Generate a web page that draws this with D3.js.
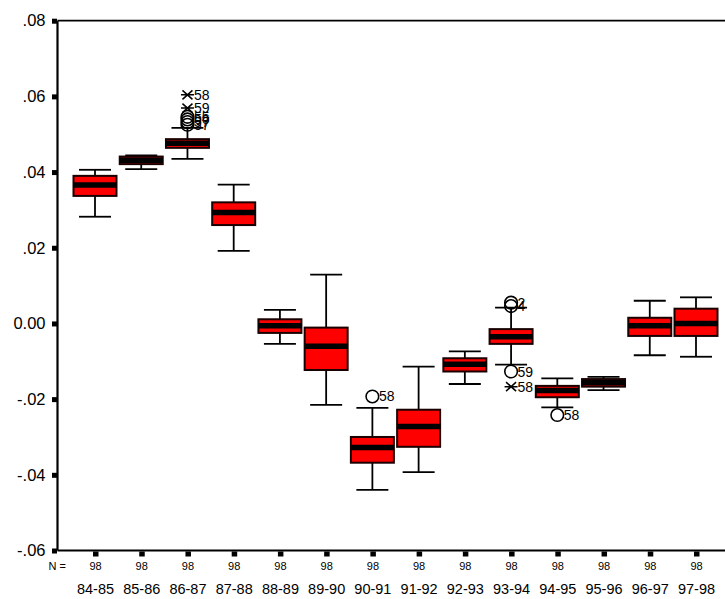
<!DOCTYPE html>
<html>
<head>
<meta charset="utf-8">
<script src="https://cdn.jsdelivr.net/npm/d3@7"></script>
<style>
  html, body { margin: 0; padding: 0; background: #fff; }
  svg { display: block; font-family: "Liberation Sans", Arial, sans-serif; }
</style>
</head>
<body>
<svg id="chart" width="725" height="599"></svg>
<script>
// Season-by-season distributions (box = quartiles, whiskers = non-outlier range)
const categories = ["84-85","85-86","86-87","87-88","88-89","89-90","90-91","91-92","92-93","93-94","94-95","95-96","96-97","97-98"];
const counts     = [98, 98, 98, 98, 98, 98, 98, 98, 98, 98, 98, 98, 98, 98];
const whiskerHigh = [0.0406, 0.0444, 0.0517, 0.0367, 0.0036, 0.0129, -0.0223, -0.0114, -0.0074, 0.0042, -0.0145, -0.0141, 0.0060, 0.0069];
const upperQuart  = [0.0390, 0.0441, 0.0487, 0.0320, 0.0011, -0.0011, -0.0300, -0.0228, -0.0092, -0.0015, -0.0165, -0.0147, 0.0015, 0.0039];
const medians     = [0.0366, 0.0431, 0.0476, 0.0293, -0.0006, -0.0060, -0.0328, -0.0272, -0.0108, -0.0035, -0.0177, -0.0157, -0.0006, 0.0000];
const lowerQuart  = [0.0337, 0.0421, 0.0464, 0.0260, -0.0025, -0.0123, -0.0368, -0.0326, -0.0127, -0.0054, -0.0195, -0.0167, -0.0033, -0.0033];
const whiskerLow  = [0.0282, 0.0408, 0.0435, 0.0192, -0.0054, -0.0215, -0.0440, -0.0393, -0.0160, -0.0109, -0.0222, -0.0176, -0.0084, -0.0088];

// Outlying cases: "o" = outlier, "x" = extreme
const outlierSeason = ["86-87","86-87","86-87","86-87","86-87","86-87","90-91","93-94","93-94","93-94","93-94","94-95"];
const outlierValue  = [0.0604, 0.0569, 0.0546, 0.0539, 0.0532, 0.0525, -0.0193, 0.0055, 0.0046, -0.0127, -0.0167, -0.0242];
const outlierCase   = ["58","59","55","56","57","37","58","2","4","59","58","58"];
const outlierKind   = ["x","x","o","o","o","o","o","o","o","o","x","o"];

const yTickValues = [0.08, 0.06, 0.04, 0.02, 0, -0.02, -0.04, -0.06];
const yTickLabels = [".08", ".06", ".04", ".02", "0.00", "-.02", "-.04", "-.06"];

const svg = d3.select("#chart");
const plotLeft = 57.5, plotTop = 20.7, plotBottom = 550.5, plotRight = 725;

const y = d3.scaleLinear().domain([-0.06, 0.08]).range([plotBottom, plotTop]);
const x = d3.scalePoint().domain(categories).range([95, 696]);

const boxW = 43, capW = 32;

// frame: left axis, top rule, bottom axis
svg.append("line").attr("x1", plotLeft).attr("x2", plotRight).attr("y1", plotTop).attr("y2", plotTop)
  .attr("stroke", "#000").attr("stroke-width", 1.8);
svg.append("line").attr("x1", plotLeft).attr("x2", plotRight).attr("y1", plotBottom).attr("y2", plotBottom)
  .attr("stroke", "#000").attr("stroke-width", 2);
svg.append("line").attr("x1", plotLeft).attr("x2", plotLeft).attr("y1", plotTop).attr("y2", plotBottom)
  .attr("stroke", "#000").attr("stroke-width", 2.2);

// y axis ticks and labels
const yAxis = d3.axisLeft(y).tickValues(yTickValues)
  .tickFormat((d, i) => yTickLabels[i]).tickSize(0).tickPadding(12);
const gy = svg.append("g").attr("transform", `translate(${plotLeft},0)`).call(yAxis);
gy.select(".domain").remove();
gy.selectAll("text").attr("font-size", 16.5).attr("fill", "#000")
  .attr("font-family", "'Liberation Sans', Arial, sans-serif");
gy.selectAll(".tick").append("rect")
  .attr("x", -5.5).attr("y", -2.5).attr("width", 5).attr("height", 5).attr("fill", "#000");

// x axis ticks, counts and season labels
const xAxis = d3.axisBottom(x).tickSize(0).tickPadding(33);
const gx = svg.append("g").attr("transform", `translate(0,${plotBottom})`).call(xAxis);
gx.select(".domain").remove();
gx.selectAll("text").attr("font-size", 14.5).attr("fill", "#000")
  .attr("font-family", "'Liberation Sans', Arial, sans-serif");
gx.selectAll(".tick").append("rect")
  .attr("x", -2.5).attr("y", 1).attr("width", 5.5).attr("height", 5).attr("fill", "#000");
gx.selectAll(".tick").append("text")
  .attr("y", 19.5).attr("text-anchor", "middle").attr("font-size", 11).attr("fill", "#000")
  .text((d, i) => counts[i]);
svg.append("text").attr("x", 66).attr("y", plotBottom + 19.5).attr("text-anchor", "end")
  .attr("font-size", 11).attr("fill", "#000").text("N =");

// boxes
const boxes = categories.map((c, i) => ({
  c, hi: whiskerHigh[i], q3: upperQuart[i], med: medians[i], q1: lowerQuart[i], lo: whiskerLow[i]
}));

const g = svg.append("g");
const bx = g.selectAll("g.box").data(boxes).join("g").attr("class", "box")
  .attr("transform", d => `translate(${x(d.c)},0)`);

bx.append("line").attr("y1", d => y(d.hi)).attr("y2", d => y(d.q3))
  .attr("stroke", "#000").attr("stroke-width", 1.8);
bx.append("line").attr("y1", d => y(d.q1)).attr("y2", d => y(d.lo))
  .attr("stroke", "#000").attr("stroke-width", 1.8);
bx.append("line").attr("x1", -capW / 2).attr("x2", capW / 2)
  .attr("y1", d => y(d.hi)).attr("y2", d => y(d.hi)).attr("stroke", "#000").attr("stroke-width", 1.8);
bx.append("line").attr("x1", -capW / 2).attr("x2", capW / 2)
  .attr("y1", d => y(d.lo)).attr("y2", d => y(d.lo)).attr("stroke", "#000").attr("stroke-width", 1.8);
bx.append("rect").attr("x", -boxW / 2).attr("width", boxW)
  .attr("y", d => y(d.q3)).attr("height", d => y(d.q1) - y(d.q3))
  .attr("fill", "#ff0000").attr("stroke", "#1a0000").attr("stroke-width", 2);
bx.append("line").attr("x1", -boxW / 2).attr("x2", boxW / 2)
  .attr("y1", d => y(d.med)).attr("y2", d => y(d.med))
  .attr("stroke", "#000").attr("stroke-width", 5.5);

// outliers and extremes with case labels
const outs = outlierSeason.map((s, i) => ({ s, v: outlierValue[i], label: outlierCase[i], kind: outlierKind[i] }));
const og = g.selectAll("g.out").data(outs).join("g").attr("class", "out")
  .attr("transform", d => `translate(${x(d.s)},${y(d.v)})`);
og.filter(d => d.kind === "o").append("circle").attr("r", 6.3)
  .attr("fill", "none").attr("stroke", "#000").attr("stroke-width", 1.6);
og.filter(d => d.kind === "x").append("path")
  .attr("d", "M-5,-4.5L5,4.5M-5,4.5L5,-4.5M-6.5,0L6.5,0")
  .attr("stroke", "#000").attr("stroke-width", 1.5).attr("fill", "none");
og.append("text").attr("x", 6.5).attr("y", 5).attr("font-size", 14).attr("fill", "#000")
  .text(d => d.label);
</script>
</body>
</html>
